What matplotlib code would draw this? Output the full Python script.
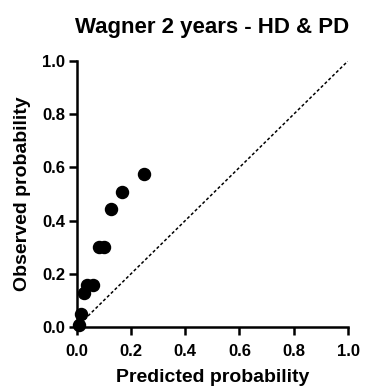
import matplotlib
matplotlib.use("Agg")
import matplotlib.pyplot as plt

plt.rcParams['font.family'] = ['Liberation Sans', 'DejaVu Sans']

# calibration points
predicted = [0.01, 0.018, 0.028, 0.039, 0.059, 0.083, 0.10, 0.128, 0.167, 0.248]
observed = [0.01, 0.05, 0.128, 0.158, 0.158, 0.30, 0.30, 0.443, 0.506, 0.575]

ticks = [0.0, 0.2, 0.4, 0.6, 0.8, 1.0]
tick_labels = ['0.0', '0.2', '0.4', '0.6', '0.8', '1.0']

fig = plt.figure(figsize=(3.68, 3.9), dpi=100)
ax = fig.add_axes([0.208, 0.161, 0.738, 0.683])

# line of perfect calibration
ax.plot([0, 1], [0, 1], color='black', linestyle=(0, (2, 1.5)), linewidth=1.1)
ax.scatter(predicted, observed, s=75, color='black', zorder=3, clip_on=False)

ax.set_xlim(0, 1)
ax.set_ylim(0, 1)
ax.set_xticks(ticks)
ax.set_xticklabels(tick_labels, fontweight='bold', fontsize=12)
ax.set_yticks(ticks)
ax.set_yticklabels(tick_labels, fontweight='bold', fontsize=12)

for side in ['top', 'right']:
    ax.spines[side].set_visible(False)
for side in ['left', 'bottom']:
    ax.spines[side].set_linewidth(1.8)
ax.tick_params(axis='x', direction='out', length=6, width=1.8, pad=6)
ax.tick_params(axis='y', direction='out', length=6, width=1.8, pad=2)

ax.set_xlabel('Predicted probability', fontweight='bold', fontsize=14, labelpad=7)
ax.set_ylabel('Observed probability', fontweight='bold', fontsize=14, labelpad=8)
ax.set_title('Wagner 2 years - HD & PD', fontweight='bold', fontsize=16, pad=20)

fig.savefig('out.png', dpi=100)
